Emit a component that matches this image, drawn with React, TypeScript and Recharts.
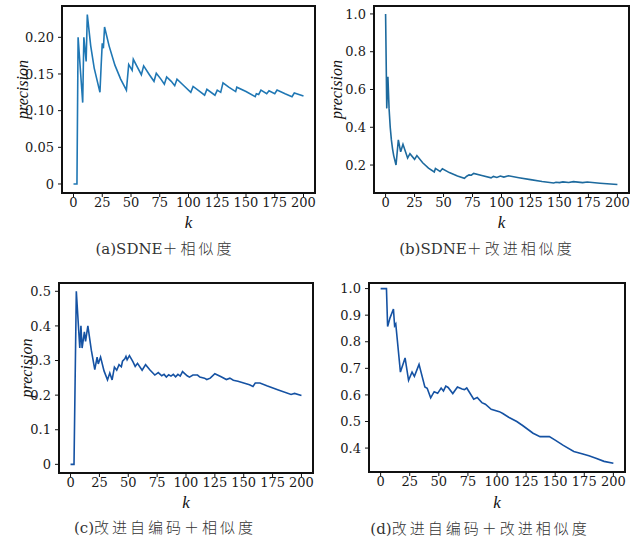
import React from 'react';
import { LineChart, Line, XAxis, YAxis } from 'recharts';

// precision@k readings, panel (a) SDNE + similarity
const kA = [0, 3, 4, 8, 9, 11, 12, 15, 18, 23, 24, 25, 26, 27, 31, 36, 41, 46, 48, 51, 52, 56, 59, 61, 66, 70, 72, 76, 79, 81, 85, 88, 90, 96, 102, 104, 110, 114, 116, 123, 125, 128, 130, 135, 141, 142, 150, 158, 159, 161, 163, 168, 170, 175, 177, 184, 190, 192, 200];
const precA = [0, 0, 0.2, 0.111, 0.2, 0.167, 0.231, 0.188, 0.158, 0.125, 0.16, 0.192, 0.185, 0.214, 0.188, 0.162, 0.143, 0.128, 0.163, 0.155, 0.17, 0.158, 0.149, 0.161, 0.149, 0.14, 0.151, 0.143, 0.136, 0.146, 0.14, 0.134, 0.143, 0.134, 0.125, 0.133, 0.126, 0.121, 0.129, 0.121, 0.128, 0.125, 0.138, 0.132, 0.126, 0.132, 0.126, 0.119, 0.123, 0.122, 0.128, 0.123, 0.127, 0.123, 0.128, 0.123, 0.119, 0.124, 0.12];

// panel (b) SDNE + improved similarity
const kB = [0, 1, 2, 3, 4, 5, 6, 7, 9, 11, 13, 15, 19, 21, 25, 27, 32, 37, 42, 43, 47, 49, 55, 62, 68, 70, 72, 74, 76, 83, 91, 93, 96, 99, 102, 106, 115, 125, 135, 145, 147, 150, 153, 158, 162, 170, 174, 185, 200];
const precB = [1.0, 0.5, 0.667, 0.5, 0.4, 0.333, 0.286, 0.25, 0.2, 0.333, 0.27, 0.31, 0.237, 0.26, 0.23, 0.25, 0.212, 0.184, 0.163, 0.182, 0.166, 0.18, 0.16, 0.142, 0.13, 0.141, 0.148, 0.146, 0.156, 0.145, 0.132, 0.14, 0.134, 0.142, 0.136, 0.143, 0.133, 0.123, 0.113, 0.105, 0.109, 0.107, 0.111, 0.108, 0.112, 0.107, 0.11, 0.104, 0.097];

// panel (c) improved autoencoder + similarity
const kC = [0, 3, 5, 8, 9, 10, 12, 13, 15, 18, 21, 23, 24, 26, 29, 32, 34, 36, 38, 40, 42, 44, 45, 47, 48, 49, 51, 54, 56, 58, 62, 65, 69, 73, 76, 79, 81, 83, 85, 87, 89, 91, 93, 95, 97, 101, 103, 106, 110, 112, 116, 118, 121, 125, 130, 135, 138, 141, 145, 150, 155, 158, 160, 164, 170, 180, 191, 194, 200];
const precC = [0, 0, 0.5, 0.336, 0.4, 0.336, 0.383, 0.355, 0.4, 0.33, 0.274, 0.31, 0.29, 0.31, 0.27, 0.244, 0.264, 0.244, 0.281, 0.272, 0.288, 0.282, 0.298, 0.305, 0.312, 0.302, 0.314, 0.297, 0.283, 0.292, 0.272, 0.288, 0.272, 0.258, 0.265, 0.256, 0.26, 0.252, 0.259, 0.255, 0.26, 0.253, 0.26, 0.255, 0.268, 0.256, 0.252, 0.258, 0.258, 0.252, 0.249, 0.245, 0.249, 0.262, 0.254, 0.245, 0.249, 0.243, 0.24, 0.235, 0.23, 0.225, 0.235, 0.235, 0.227, 0.215, 0.202, 0.205, 0.199];

// panel (d) improved autoencoder + improved similarity
const kD = [0, 5, 6, 8, 11, 12, 13, 17, 21, 24, 27, 29, 33, 38, 40, 43, 46, 49, 52, 54, 56, 58, 62, 66, 70, 72, 74, 80, 83, 87, 90, 95, 102, 105, 110, 117, 122, 131, 137, 145, 150, 157, 166, 173, 179, 185, 192, 200];
const precD = [1.0, 1.0, 0.857, 0.889, 0.923, 0.86, 0.867, 0.686, 0.739, 0.655, 0.686, 0.67, 0.715, 0.63, 0.625, 0.589, 0.612, 0.606, 0.626, 0.615, 0.633, 0.628, 0.605, 0.63, 0.622, 0.62, 0.626, 0.584, 0.59, 0.571, 0.565, 0.546, 0.537, 0.53, 0.516, 0.5, 0.485, 0.456, 0.443, 0.443, 0.43, 0.41, 0.387, 0.379, 0.371, 0.362, 0.35, 0.343];

const xTicks = [0, 25, 50, 75, 100, 125, 150, 175, 200];
const yTicksA = [0, 0.05, 0.1, 0.15, 0.2];
const yTicksB = [0.2, 0.4, 0.6, 0.8, 1.0];
const yTicksC = [0, 0.1, 0.2, 0.3, 0.4, 0.5];
const yTicksD = [0.4, 0.5, 0.6, 0.7, 0.8, 0.9, 1.0];

// caption = latin prefix + CJK part
const captions: [string, string][] = [
  ['(a)SDNE', '＋相似度'],
  ['(b)SDNE', '＋改进相似度'],
  ['(c)', '改进自编码＋相似度'],
  ['(d)', '改进自编码＋改进相似度'],
];

const toRows = (ks: number[], ps: number[]) => ks.map((k, i) => ({ k, p: ps[i] }));

const tickStyle = { fill: '#1a1a1a', fontSize: 13, fontFamily: 'DejaVu Serif' };

// rotated y label, nudged up a little like matplotlib's placement
const precisionLabel = (offset: number) => (props: any) => {
  const vb = props.viewBox || {};
  const cx = (vb.x || 0) + offset;
  const cy = (vb.y || 0) + (vb.height || 0) / 2 - 10;
  return (
    <text x={cx} y={cy} transform={`rotate(-90 ${cx} ${cy})`} textAnchor="middle" dominantBaseline="central"
      style={{ fontFamily: 'Liberation Serif', fontStyle: 'italic', fontSize: 16, fill: '#111' }}>
      precision
    </text>
  );
};

type PanelProps = {
  left: number; top: number; width: number; height: number;
  frame: [number, number, number, number]; // plot box l, t, r, b (page px)
  rows: { k: number; p: number }[];
  yDomain: [number, number];
  yTicks: number[];
  fmt: (v: number) => string;
  color: string;
  yLabelX?: number;
  kBaseline: number;
};

const Panel = ({ left, top, width, height, frame, rows, yDomain, yTicks, fmt, color, yLabelX, kBaseline }: PanelProps) => {
  const [l, t, r, b] = frame;
  return (
    <div style={{ position: 'absolute', left, top, width, height }}>
      {/* axes frame: four filled bars */}
      <div style={{ position: 'absolute', left: l - left - 1, top: t - top - 1, width: r - l + 2, height: 2, background: '#111' }} />
      <div style={{ position: 'absolute', left: l - left - 1, top: b - top - 1, width: r - l + 2, height: 2, background: '#111' }} />
      <div style={{ position: 'absolute', left: l - left - 1, top: t - top - 1, width: 2, height: b - t + 2, background: '#111' }} />
      <div style={{ position: 'absolute', left: r - left - 1, top: t - top - 1, width: 2, height: b - t + 2, background: '#111' }} />
      <div style={{ position: 'absolute', left: 0, top: 0 }}>
        <LineChart width={width} height={height} data={rows}
          margin={{ top: t - top, right: left + width - r, left: 0, bottom: 0 }}>
          <XAxis dataKey="k" type="number" domain={[-10, 210]} ticks={xTicks} allowDataOverflow
            height={top + height - b} axisLine={false} tickSize={4} tickMargin={1}
            tickLine={{ stroke: '#111' }} tick={tickStyle}
            label={{ value: 'k', position: 'insideBottom', offset: top + height - kBaseline,
              style: { fontFamily: 'Liberation Serif', fontStyle: 'italic', fontSize: 17, fill: '#111' } }} />
          <YAxis type="number" domain={yDomain} ticks={yTicks} allowDataOverflow width={l - left}
            axisLine={false} tickSize={4} tickMargin={4} tickLine={{ stroke: '#111' }} tick={tickStyle}
            tickFormatter={fmt}
            label={yLabelX === undefined ? undefined : { content: precisionLabel(yLabelX - left) }} />
          <Line type="linear" dataKey="p" stroke={color} strokeWidth={1.6} dot={false} isAnimationActive={false} />
        </LineChart>
      </div>
    </div>
  );
};

const Caption = ({ cx, cy, text }: { cx: number; cy: number; text: [string, string] }) => (
  <div style={{
    position: 'absolute', left: cx - 150, top: cy - 11, width: 300, lineHeight: '22px',
    textAlign: 'center', fontSize: 15, color: '#333',
    fontFamily: "'DejaVu Serif', 'Noto Sans CJK SC'", whiteSpace: 'nowrap',
  }}>
    <span>{text[0]}</span>
    <span style={{ letterSpacing: 3, fontFamily: "'Noto Sans CJK SC'", fontWeight: 300 }}>{text[1]}</span>
  </div>
);

const App = () => (
  <div style={{ position: 'absolute', left: 0, top: 0, width: 636, height: 542, background: '#fff' }}>
    <Panel left={0} top={0} width={318} height={236} frame={[62, 6, 315, 193]}
      rows={toRows(kA, precA)} yDomain={[-0.0123, 0.2427]} yTicks={yTicksA}
      fmt={(v) => (v === 0 ? '0' : v.toFixed(2))} color="#1f77b4" yLabelX={22} kBaseline={228} />
    <Panel left={318} top={0} width={318} height={236} frame={[374, 6, 629, 193]}
      rows={toRows(kB, precB)} yDomain={[0.052, 1.042]} yTicks={yTicksB}
      fmt={(v) => v.toFixed(1)} color="#1d6a9e" yLabelX={336} kBaseline={228} />
    <Panel left={0} top={270} width={318} height={250} frame={[59, 283, 313, 473]}
      rows={toRows(kC, precC)} yDomain={[-0.025, 0.524]} yTicks={yTicksC}
      fmt={(v) => (v === 0 ? '0' : v.toFixed(1))} color="#1552a3" yLabelX={26} kBaseline={508} />
    <Panel left={318} top={270} width={318} height={250} frame={[369, 283, 625, 472]}
      rows={toRows(kD, precD)} yDomain={[0.31, 1.021]} yTicks={yTicksD}
      fmt={(v) => v.toFixed(1)} color="#1552a3" kBaseline={508} />
    <Caption cx={165} cy={248} text={captions[0]} />
    <Caption cx={487} cy={248} text={captions[1]} />
    <Caption cx={165} cy={527} text={captions[2]} />
    <Caption cx={480} cy={528} text={captions[3]} />
  </div>
);

export default App;
